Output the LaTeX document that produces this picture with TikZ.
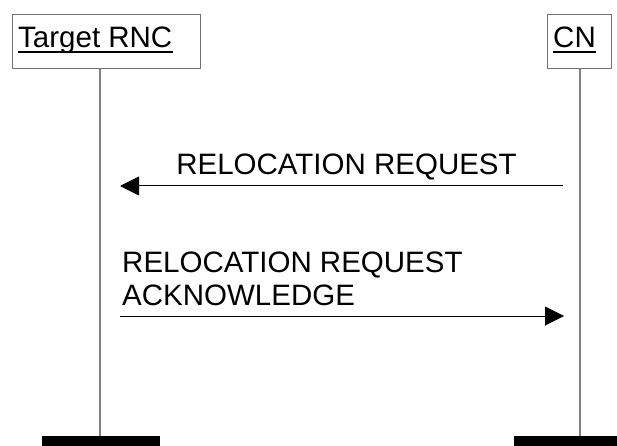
\documentclass[tikz,border=0pt]{standalone}
\usepackage{fontspec}
\setmainfont{Liberation Sans}
\usetikzlibrary{arrows.meta}
\begin{document}
\begin{tikzpicture}[x=1pt,y=-1pt,
  entity/.style={draw=black!55, line width=1pt, minimum width=#1, minimum height=54pt, inner sep=0pt, anchor=north west},
  lbl/.style={font=\fontsize{29.5}{33}\selectfont, inner sep=0pt},
  life/.style={draw=black!50, line width=1.3pt},
  bar/.style={fill=black, draw=none, minimum height=10pt, inner sep=0pt, anchor=north west},
  msg/.style={draw=black, line width=1pt, -{Triangle[length=19pt,width=19pt]}},
  uline/.style={draw=black, line width=2.4pt}]
\useasboundingbox (0,0) rectangle (617,446);
% entities
\node[entity=188pt] (trnc) at (12,14) {};
\node[entity=64pt] (cn) at (547,14) {};
\node[lbl, anchor=base west] (trnct) at (18,48) {Target RNC};
\node[lbl, anchor=base west] (cnt) at (553,48) {CN};
\draw[uline] ([yshift=-4pt]trnct.base west) -- ([yshift=-4pt]trnct.base east);
\draw[uline] ([yshift=-4pt]cnt.base west) -- ([yshift=-4pt]cnt.base east);
% lifelines
\coordinate (trnctop) at (100,68);
\coordinate (cntop) at (580,68);
\node[bar, minimum width=118pt] (trncbar) at (42,436) {};
\node[bar, minimum width=103pt] (cnbar) at (514,436) {};
\draw[life] (trnctop) -- (trnctop |- trncbar.north);
\draw[life] (cntop) -- (cntop |- cnbar.north);
% messages
\coordinate (m1s) at (563,186);
\coordinate (m1e) at (120,186);
\draw[msg] (m1s) -- (m1e);
\node[lbl, anchor=base] (m1t) at (346.5,175) {RELOCATION REQUEST};
\coordinate (m2s) at (120,316);
\coordinate (m2e) at (564,316);
\draw[msg] (m2s) -- (m2e);
\node[lbl, anchor=base west] (m2ta) at (122,272) {RELOCATION REQUEST};
\node[lbl, anchor=base west] (m2tb) at (122,305) {ACKNOWLEDGE};
\end{tikzpicture}
\end{document}
